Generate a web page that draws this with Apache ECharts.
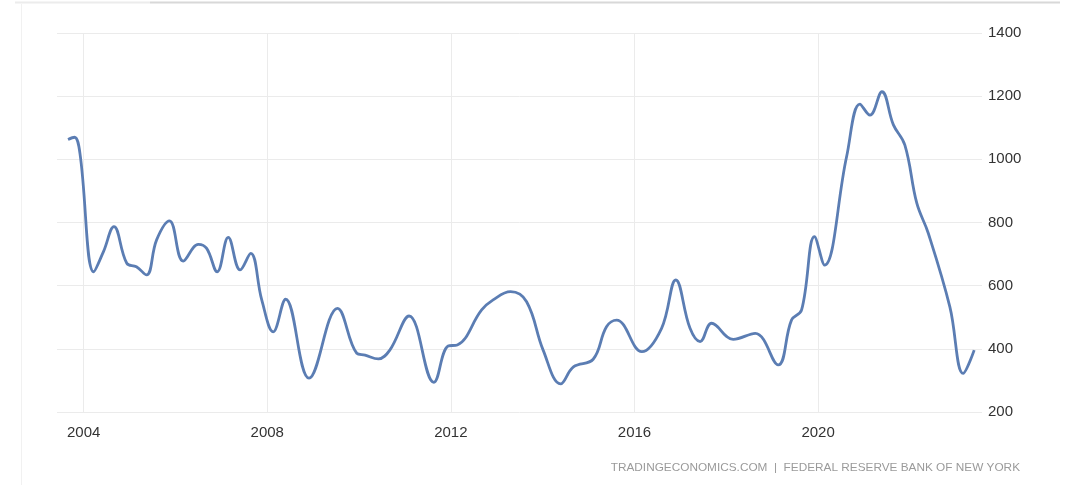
<!DOCTYPE html>
<html>
<head>
<meta charset="utf-8">
<script src="https://cdn.jsdelivr.net/npm/echarts@6/dist/echarts.min.js"></script>
<style>
html,body{margin:0;padding:0;background:#fff;}
#chart{width:1070px;height:485px;}
</style>
</head>
<body>
<div id="chart"></div>
<script>
// decimal years (x) and values (y)
const years = [2003.66,2003.80,2003.92,2004.22,2004.43,2004.66,2004.94,2005.15,2005.37,2005.59,2005.87,2006.17,2006.50,2006.68,2006.91,2007.15,2007.41,2007.64,2007.88,2008.13,2008.40,2008.91,2009.53,2009.95,2010.13,2010.42,2010.67,2011.09,2011.63,2011.94,2012.14,2012.67,2012.92,2013.30,2013.65,2014.01,2014.39,2014.67,2015.10,2015.39,2015.61,2016.16,2016.59,2016.90,2017.21,2017.43,2017.68,2018.15,2018.63,2019.13,2019.42,2019.64,2019.92,2020.14,2020.62,2020.91,2021.13,2021.39,2021.64,2021.89,2022.15,2022.40,2022.87,2023.16,2023.40];
const values = [1063,1070,1019,644,707,787,671,660,634,745,805,678,731,718,644,753,650,702,555,454,557,307,528,386,380,368,396,504,294,409,412,523,555,581,549,396,289,343,367,470,491,391,465,618,465,423,481,430,449,349,491,523,755,665,1008,1175,1140,1214,1109,1045,861,766,533,322,396];
const xTicks = [2004,2008,2012,2016,2020];
const yTicks = [200,400,600,800,1000,1200,1400];
const sourceText = 'TRADINGECONOMICS.COM  |  FEDERAL RESERVE BANK OF NEW YORK';

const points = years.map((y,i)=>[y, values[i]]);
const chart = echarts.init(document.getElementById('chart'), null, {renderer:'canvas'});
chart.setOption({
  animation:false,
  backgroundColor:'#ffffff',
  grid:{left:57,right:88,top:33,bottom:73,containLabel:false},
  xAxis:{
    type:'value',
    min:2003.42,
    max:2023.57,
    axisLine:{show:false},
    axisTick:{show:false, customValues:xTicks},
    axisLabel:{customValues:xTicks, color:'#333', fontSize:15, fontFamily:'Liberation Sans, Arial, sans-serif', margin:13, formatter:v=>String(Math.round(v))},
    splitLine:{show:true, lineStyle:{color:'#ebebeb', width:1}}
  },
  yAxis:{
    type:'value',
    position:'right',
    min:200,max:1400,interval:200,
    axisLine:{show:false},
    axisTick:{show:false},
    axisLabel:{color:'#333', fontSize:15, fontFamily:'Liberation Sans, Arial, sans-serif', margin:6, formatter:v=>String(v)},
    splitLine:{show:true, lineStyle:{color:'#ebebeb', width:1}}
  },
  series:[{
    type:'line',
    data:points,
    smooth:0.4,
    showSymbol:false,
    lineStyle:{color:'#5b7db3', width:2.8},
    z:3
  }],
  graphic:[
    {type:'line', shape:{x1:150,y1:2.5,x2:1060,y2:2.5}, style:{stroke:'#d8d8d8', lineWidth:2}},
    {type:'line', shape:{x1:15,y1:2.5,x2:150,y2:2.5}, style:{stroke:'#ececec', lineWidth:2}},
    {type:'line', shape:{x1:21.5,y1:4,x2:21.5,y2:485}, style:{stroke:'#f1f1f1', lineWidth:1}},
    {type:'text', right:50, top:462, style:{text:sourceText, fill:'#9a9a9a', fontSize:11.8, fontFamily:'Liberation Sans, Arial, sans-serif'}}
  ]
});
</script>
</body>
</html>
